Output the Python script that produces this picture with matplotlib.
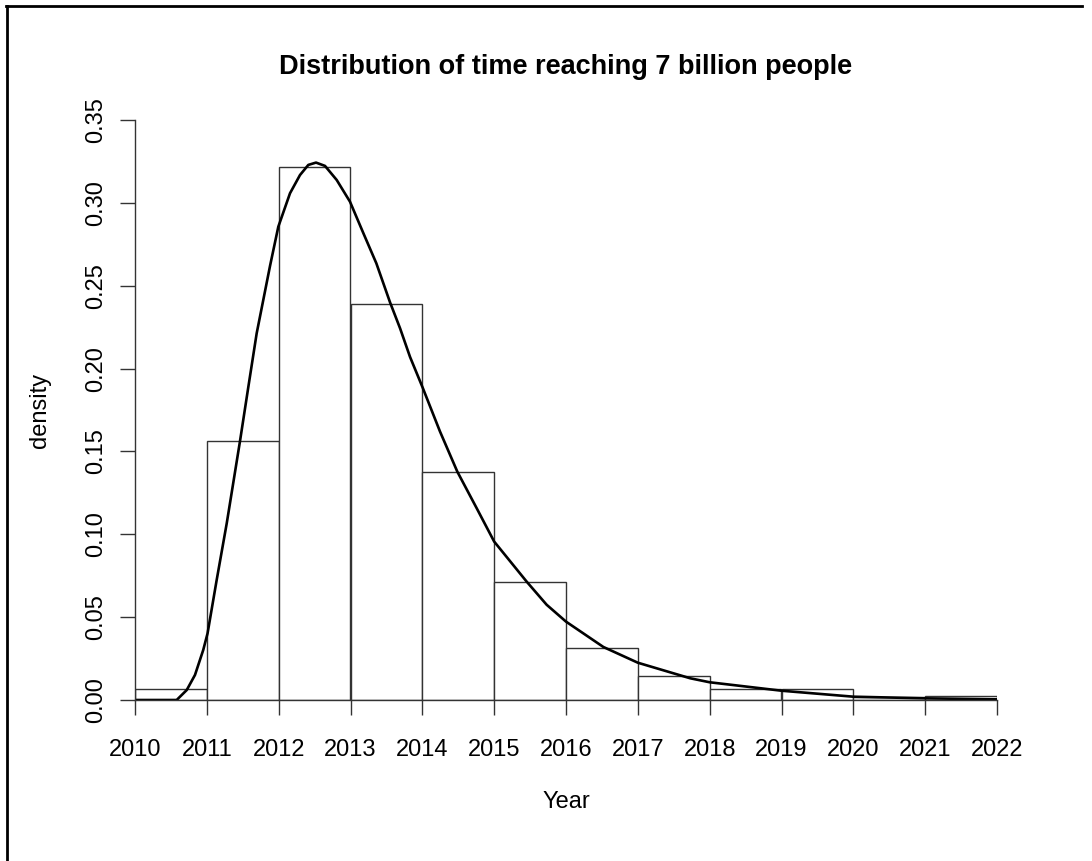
import matplotlib
matplotlib.use("Agg")
import matplotlib.pyplot as plt
from matplotlib.lines import Line2D

# histogram bins (years) and densities
bin_edges = [2010, 2011, 2012, 2013, 2014, 2015, 2016, 2017, 2018, 2019, 2020, 2021, 2022]
bar_density = [0.0066, 0.1563, 0.3215, 0.2390, 0.1378, 0.0714, 0.0316, 0.0146,
               0.0065, 0.0068, 0.0020, 0.0025]

# density curve
curve_year = [2010.0, 2010.58, 2010.72, 2010.835, 2010.95, 2011.01, 2011.137, 2011.277,
              2011.462, 2011.578, 2011.694, 2011.88, 2011.995, 2012.158, 2012.297,
              2012.413, 2012.52, 2012.645, 2012.808, 2012.993, 2013.18, 2013.36,
              2013.55, 2013.69, 2013.829, 2014.0, 2014.246, 2014.487, 2014.757,
              2015.0, 2015.453, 2015.73, 2016.0, 2016.52, 2017.0, 2017.73,
              2018.0, 2019.0, 2020.0, 2021.0, 2022.0]
curve_density = [0.0, 0.0, 0.0060, 0.0151, 0.0302, 0.0402, 0.0724, 0.1066,
                 0.1563, 0.1890, 0.2213, 0.2620, 0.2856, 0.3058, 0.3168,
                 0.3229, 0.3243, 0.3223, 0.3138, 0.3007, 0.2816, 0.2635,
                 0.2400, 0.2243, 0.2070, 0.1890, 0.1620, 0.1378, 0.1157,
                 0.0956, 0.0714, 0.0575, 0.0473, 0.0320, 0.0225, 0.0131,
                 0.0107, 0.0056, 0.0020, 0.0010, 0.0004]

x_ticks = list(range(2010, 2023))
y_ticks = [0.00, 0.05, 0.10, 0.15, 0.20, 0.25, 0.30, 0.35]

plt.rcParams['font.family'] = ['Liberation Sans', 'DejaVu Sans']

fig = plt.figure(figsize=(10.92, 8.61), dpi=100)
fig.patch.set_facecolor("white")
ax = fig.add_axes([135 / 1092, 1 - 700 / 861, (997 - 135) / 1092, (700 - 120) / 861])

widths = [bin_edges[i + 1] - bin_edges[i] for i in range(len(bar_density))]
ax.bar(bin_edges[:-1], bar_density, width=widths, align="edge",
       facecolor="white", edgecolor="#333333", linewidth=1.0)
ax.plot(curve_year, curve_density, color="black", linewidth=1.9,
        solid_capstyle="round", solid_joinstyle="round")

ax.set_xlim(2010, 2022)
ax.set_ylim(0, 0.35)
ax.set_xticks(x_ticks)
ax.set_xticklabels([str(t) for t in x_ticks])
ax.set_yticks(y_ticks)
ax.set_yticklabels([f"{t:.2f}" for t in y_ticks], rotation=90, va="center")

for side in ["top", "right"]:
    ax.spines[side].set_visible(False)
for side in ["left", "bottom"]:
    ax.spines[side].set_color("#333333")
    ax.spines[side].set_linewidth(1.0)

ax.tick_params(axis="both", direction="out", length=10.8, width=1.0, color="#333333",
               labelsize=17)
ax.tick_params(axis="x", pad=17)
ax.tick_params(axis="y", pad=9)

fig.text(566 / 1092, 1 - 67 / 861, "Distribution of time reaching 7 billion people",
         ha="center", va="center", fontsize=19.5, fontweight="bold")
fig.text(566 / 1092, 1 - 802 / 861, "Year", ha="center", va="center", fontsize=17)
fig.text(40 / 1092, 1 - 410 / 861, "density", ha="center", va="center",
         fontsize=17, rotation=90)

# outer frame (top and left edges visible)
fig.add_artist(Line2D([6 / 1092, 1082 / 1092], [1 - 5.5 / 861, 1 - 5.5 / 861],
                      color="black", linewidth=2.0, transform=fig.transFigure))
fig.add_artist(Line2D([7 / 1092, 7 / 1092], [0, 1 - 5.5 / 861],
                      color="black", linewidth=2.0, transform=fig.transFigure))

fig.savefig("out.png", dpi=100, facecolor="white")
